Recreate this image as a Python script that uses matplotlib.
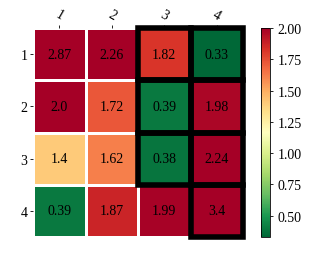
import matplotlib
matplotlib.use("Agg")
import matplotlib.pyplot as plt
import numpy as np
from matplotlib.patches import Rectangle

rows = ["1", "2", "3", "4"]
cols = ["1", "2", "3", "4"]
values = np.array([
    [2.87, 2.26, 1.82, 0.33],
    [2.0, 1.72, 0.39, 1.98],
    [1.4, 1.62, 0.38, 2.24],
    [0.39, 1.87, 1.99, 3.4],
])
highlight = [(0, 2), (0, 3), (1, 2), (1, 3), (2, 2), (2, 3), (3, 3)]
vmax = 2.0

plt.rcParams['font.family'] = ['Liberation Serif', 'DejaVu Serif']
fig = plt.figure(figsize=(3.16, 2.55), dpi=100)
ax = fig.add_axes([33/316, 1-238/255, 210/316, 209/255])
cax = fig.add_axes([261/316, 1-238/255, 9/316, 209/255])

vmin = values.min()
cmap = plt.get_cmap('RdYlGn_r')
mesh = ax.pcolormesh(np.arange(5), np.arange(5), values, cmap=cmap, vmin=vmin, vmax=vmax,
                     edgecolor='white', linewidth=2)
ax.set_xlim(0, 4)
ax.set_ylim(4, 0)
for i in range(4):
    for j in range(4):
        ax.text(j + 0.5, i + 0.5, str(values[i, j]), ha='center', va='center', fontsize=10, color='black')
for (i, j) in highlight:
    ax.add_patch(Rectangle((j, i), 1, 1, fill=False, edgecolor='black', linewidth=4, clip_on=False))
ax.set_xticks(np.arange(4) + 0.5)
ax.set_xticklabels(cols, rotation=-30, fontsize=10)
ax.set_yticks(np.arange(4) + 0.5)
ax.set_yticklabels(rows, fontsize=10)
ax.xaxis.tick_top()
ax.tick_params(length=2, width=0.6, pad=2)
for s in ax.spines.values():
    s.set_visible(False)

cb = fig.colorbar(mesh, cax=cax)
cb.set_ticks([0.5, 0.75, 1.0, 1.25, 1.5, 1.75, 2.0])
cb.ax.tick_params(labelsize=10, length=2, width=0.6)
cb.outline.set_linewidth(0.6)

fig.savefig('out.png', dpi=100)
